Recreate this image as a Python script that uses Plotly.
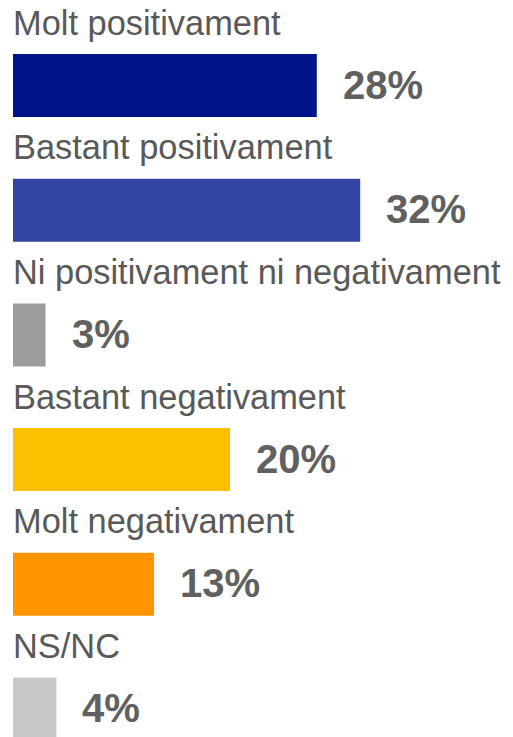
import plotly.graph_objects as go

categories = ["Molt positivament", "Bastant positivament", "Ni positivament ni negativament",
              "Bastant negativament", "Molt negativament", "NS/NC"]
values = [28, 32, 3, 20, 13, 4]
value_labels = ["28%", "32%", "3%", "20%", "13%", "4%"]
colors = ["#00148A", "#3244A0", "#9E9D9B", "#FDC000", "#FF9400", "#C8C8C8"]

# page body has an 8px margin; size the figure so it fits the window
page_off = 8
W, H = 513 - page_off, 737 - page_off
px_per_unit = 10.85
left = 13 - page_off
pitch = 124.7
first_center = 85.5 - page_off

fig = go.Figure(go.Bar(
    x=values, y=categories, orientation="h",
    marker=dict(color=colors, line=dict(width=0)),
    width=0.505, hoverinfo="skip",
))

annotations = []
for cat, v, lab in zip(categories, values, value_labels):
    annotations.append(dict(x=0, y=cat, xref="x", yref="y", text=cat, showarrow=False,
                            xanchor="left", yanchor="middle", yshift=63, xshift=-2,
                            font=dict(family="Liberation Sans, Arial", size=34.4, color="#595959")))
    annotations.append(dict(x=v, y=cat, xref="x", yref="y", text="<b>" + lab + "</b>", showarrow=False,
                            xanchor="left", yanchor="middle", xshift=24, yshift=1,
                            font=dict(family="Liberation Sans, Arial", size=40, color="#606060")))

plot_w = W - left
fig.update_layout(
    width=W, height=H,
    margin=dict(l=left, r=0, t=0, b=0),
    paper_bgcolor="white", plot_bgcolor="white",
    showlegend=False,
    xaxis=dict(range=[0, plot_w / px_per_unit], visible=False, fixedrange=True),
    yaxis=dict(categoryorder="array", categoryarray=categories,
               range=[(H - first_center) / pitch, -first_center / pitch],
               visible=False, fixedrange=True),
    annotations=annotations,
)

fig.write_html("out.html", config={"displayModeBar": False})
